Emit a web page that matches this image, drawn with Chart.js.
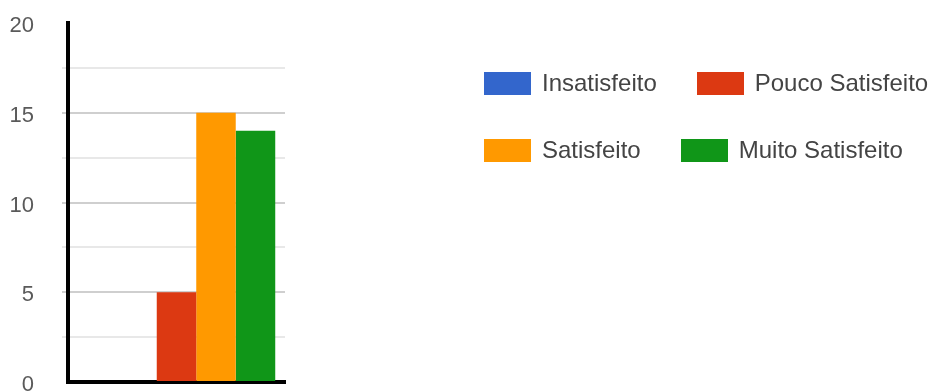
<!DOCTYPE html>
<html lang="pt">
<head>
  <meta charset="UTF-8">
  <title>Satisfação</title>
  <script src="https://cdn.jsdelivr.net/npm/chart.js@4.4.0/dist/chart.umd.min.js"></script>
  <style>
    body { margin: 0; background: #fff; font-family: "Liberation Sans", Arial, sans-serif; }
    .wrap { position: relative; width: 933px; height: 392px; }
    #legend { position: absolute; left: 484px; top: 60px; }
    .row { display: flex; gap: 40px; height: 46px; align-items: center; margin-bottom: 21px; }
    .item { display: flex; align-items: center; font-size: 24px; color: #444; }
    .box { width: 47px; height: 23px; margin-right: 11px; }
  </style>
</head>
<body>
  <div class="wrap">
    <canvas id="chart" width="933" height="392"></canvas>
    <div id="legend"></div>
  </div>

  <script>
    const categories = ['Respostas'];
    const seriesNames = ['Insatisfeito', 'Pouco Satisfeito', 'Satisfeito', 'Muito Satisfeito'];
    const seriesValues = [0, 5, 15, 14];
    const seriesColors = ['#3366cc', '#dc3912', '#ff9900', '#109618'];
    const yTickLabels = [0, 5, 10, 15, 20];

    // empty first slot pushes the group of bars a little to the right
    const datasets = [{ label: '', data: [null], backgroundColor: 'transparent' }];
    seriesNames.forEach((name, i) => {
      datasets.push({ label: name, data: [seriesValues[i]], backgroundColor: seriesColors[i] });
    });

    function gridColor(ctx) {
      const v = ctx.tick ? ctx.tick.value : 0;
      if (v === 0 || v === 20) return 'rgba(0,0,0,0)';
      return yTickLabels.includes(v) ? '#cfcfcf' : '#e8e8e8';
    }

    const chart = new Chart(document.getElementById('chart'), {
      type: 'bar',
      data: { labels: categories, datasets: datasets },
      options: {
        responsive: false,
        animation: false,
        layout: { padding: { left: 0, right: 648, top: 23, bottom: 0 } },
        plugins: { legend: { display: false }, tooltip: { enabled: false } },
        datasets: { bar: { categoryPercentage: 0.91, barPercentage: 1 } },
        scales: {
          x: {
            ticks: { display: false },
            grid: { display: false },
            border: { color: '#000', width: 4 },
            afterFit: s => { s.height = 10; s.paddingLeft = 0; s.paddingRight = 0; }
          },
          y: {
            min: 0,
            max: 20,
            ticks: {
              stepSize: 2.5,
              padding: 28,
              labelOffset: 3,
              color: '#5a5a5a',
              font: { family: '"Liberation Sans", Arial, sans-serif', size: 22 },
              callback: v => yTickLabels.includes(v) ? v : ''
            },
            grid: { color: gridColor, lineWidth: 2, tickLength: 6 },
            border: { color: '#000', width: 4 },
            afterFit: s => { s.width = 68; s.paddingTop = 0; s.paddingBottom = 0; }
          }
        }
      }
    });

    // legend in two rows of two, built from the chart's datasets
    const legend = document.getElementById('legend');
    const items = chart.data.datasets.filter(d => d.label);
    for (let r = 0; r < items.length; r += 2) {
      const row = document.createElement('div');
      row.className = 'row';
      items.slice(r, r + 2).forEach(d => {
        const item = document.createElement('div');
        item.className = 'item';
        const box = document.createElement('span');
        box.className = 'box';
        box.style.background = d.backgroundColor;
        item.appendChild(box);
        item.appendChild(document.createTextNode(d.label));
        row.appendChild(item);
      });
      legend.appendChild(row);
    }
  </script>
</body>
</html>
